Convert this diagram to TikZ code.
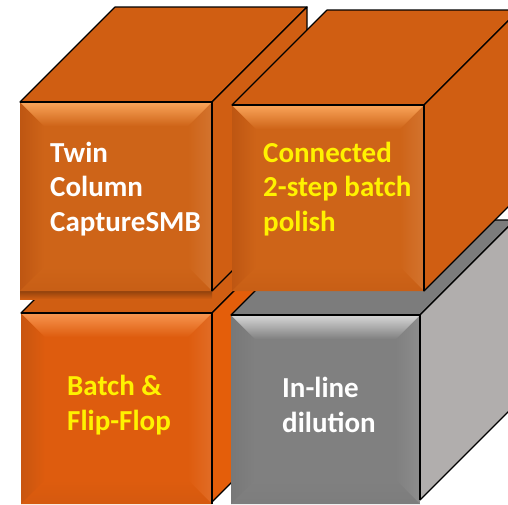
\documentclass[tikz,border=0pt]{standalone}
\usepackage{fontspec}
\setmainfont{Carlito}
\definecolor{otop}{RGB}{208,94,18}
\definecolor{ofront}{RGB}{206,100,24}
\definecolor{ohi}{RGB}{250,165,90}
\definecolor{odark}{RGB}{190,86,18}
\definecolor{bfront}{RGB}{222,92,14}
\definecolor{bhi}{RGB}{247,150,80}
\definecolor{bdark}{RGB}{200,86,16}
\definecolor{bright}{RGB}{228,94,10}
\definecolor{gfront}{RGB}{128,128,128}
\definecolor{ghi}{RGB}{215,215,215}
\definecolor{gdark}{RGB}{120,120,120}
\definecolor{gside}{RGB}{177,174,173}
\definecolor{gtop}{RGB}{124,124,124}
\tikzset{
  edge/.style={draw=black, line width=1.2pt, line join=round},
  lbl/.style={font=\bfseries\fontsize{29}{34.5}\selectfont, align=left, inner sep=0pt, anchor=base west},
  wlbl/.style={lbl, text=white},
  ylbl/.style={lbl, text=yellow},
}
% front face with bevel: x1 y1 x2 y2 base highlight dark
\newcommand\bevface[7]{%
  \fill[#5] (#1,#2) rectangle (#3,#4);
  \shade[left color=#7, right color=#5] (#1,#2) -- (#1+24,#2+24) -- (#1+24,#4-24) -- (#1,#4) -- cycle;
  \shade[left color=#5, right color=#5!90!white] (#3,#2) -- (#3-24,#2+24) -- (#3-24,#4-24) -- (#3,#4) -- cycle;
  \shade[top color=#5, bottom color=#5!60!#7] (#1,#4) -- (#1+24,#4-24) -- (#3-24,#4-24) -- (#3,#4) -- cycle;
  \shade[top color=#6, bottom color=#5] (#1,#2) -- (#3,#2) -- (#3-24,#2+24) -- (#1+24,#2+24) -- cycle;
}
\begin{document}
\begin{tikzpicture}[x=1pt,y=-1pt]
\useasboundingbox (0,0) rectangle (508,504);
\fill[white] (0,0) rectangle (508,504);
\clip (0,0) rectangle (508,504);
% ---- bottom-left cube
\fill[otop] (21,313) -- (116,218) -- (307,218) -- (212,313) -- cycle;
\draw[edge] (21,313) -- (116,218) -- (307,218) -- (212,313) -- cycle;
\fill[bright] (212,313) -- (307,218) -- (307,407) -- (212,502) -- cycle;
\draw[edge] (212,313) -- (307,218) -- (307,407) -- (212,502) -- cycle;
\bevface{21}{313}{212}{504}{bfront}{bhi}{bdark}
\draw[edge] (21,313) -- (212,313) -- (212,504);
\shade[top color=otop!70!black, bottom color=otop] (20,291) rectangle (212,299);
% ---- bottom-right (grey) cube
\fill[gtop] (231,315) -- (326,220) -- (515,220) -- (420,315) -- cycle;
\draw[edge] (231,315) -- (326,220) -- (515,220) -- (420,315) -- cycle;
\fill[gside] (420,315) -- (515,220) -- (515,405) -- (420,500) -- cycle;
\draw[edge] (420,315) -- (515,220) -- (515,405) -- (420,500) -- cycle;
\bevface{231}{315}{420}{504}{gfront}{ghi}{gdark}
\draw[edge] (231,315) -- (420,315) -- (420,500);
% ---- top-left cube
\fill[otop] (20,102) -- (115,7) -- (307,7) -- (212,102) -- cycle;
\draw[edge] (20,102) -- (115,7) -- (307,7) -- (212,102) -- cycle;
\fill[otop] (212,102) -- (307,7) -- (307,196) -- (212,291) -- cycle;
\draw[edge] (212,102) -- (307,7) -- (307,196) -- (212,291) -- cycle;
\bevface{20}{102}{212}{291}{ofront}{ohi}{odark}
\draw[edge] (20,102) -- (212,102) -- (212,291);
% ---- top-right cube
\fill[otop] (232,105) -- (327,10) -- (519,10) -- (424,105) -- cycle;
\draw[edge] (232,105) -- (327,10) -- (519,10) -- (424,105) -- cycle;
\fill[otop] (424,105) -- (519,10) -- (519,196) -- (424,291) -- cycle;
\draw[edge] (424,105) -- (519,10) -- (519,196) -- (424,291) -- cycle;
\bevface{232}{105}{424}{291}{ofront}{ohi}{odark}
\draw[edge] (232,105) -- (424,105) -- (424,291);
% ---- labels (anchor = baseline of last line)
\node[wlbl] (tl) at (50,231) {Twin\\Column\\CaptureSMB};
\node[ylbl] (tr) at (263,231) {Connected\\2-step batch\\polish};
\node[ylbl] (bl) at (67,430) {Batch \&\\Flip-Flop};
\node[wlbl] (br) at (282,432) {In-line\\dilution};
\end{tikzpicture}
\end{document}
